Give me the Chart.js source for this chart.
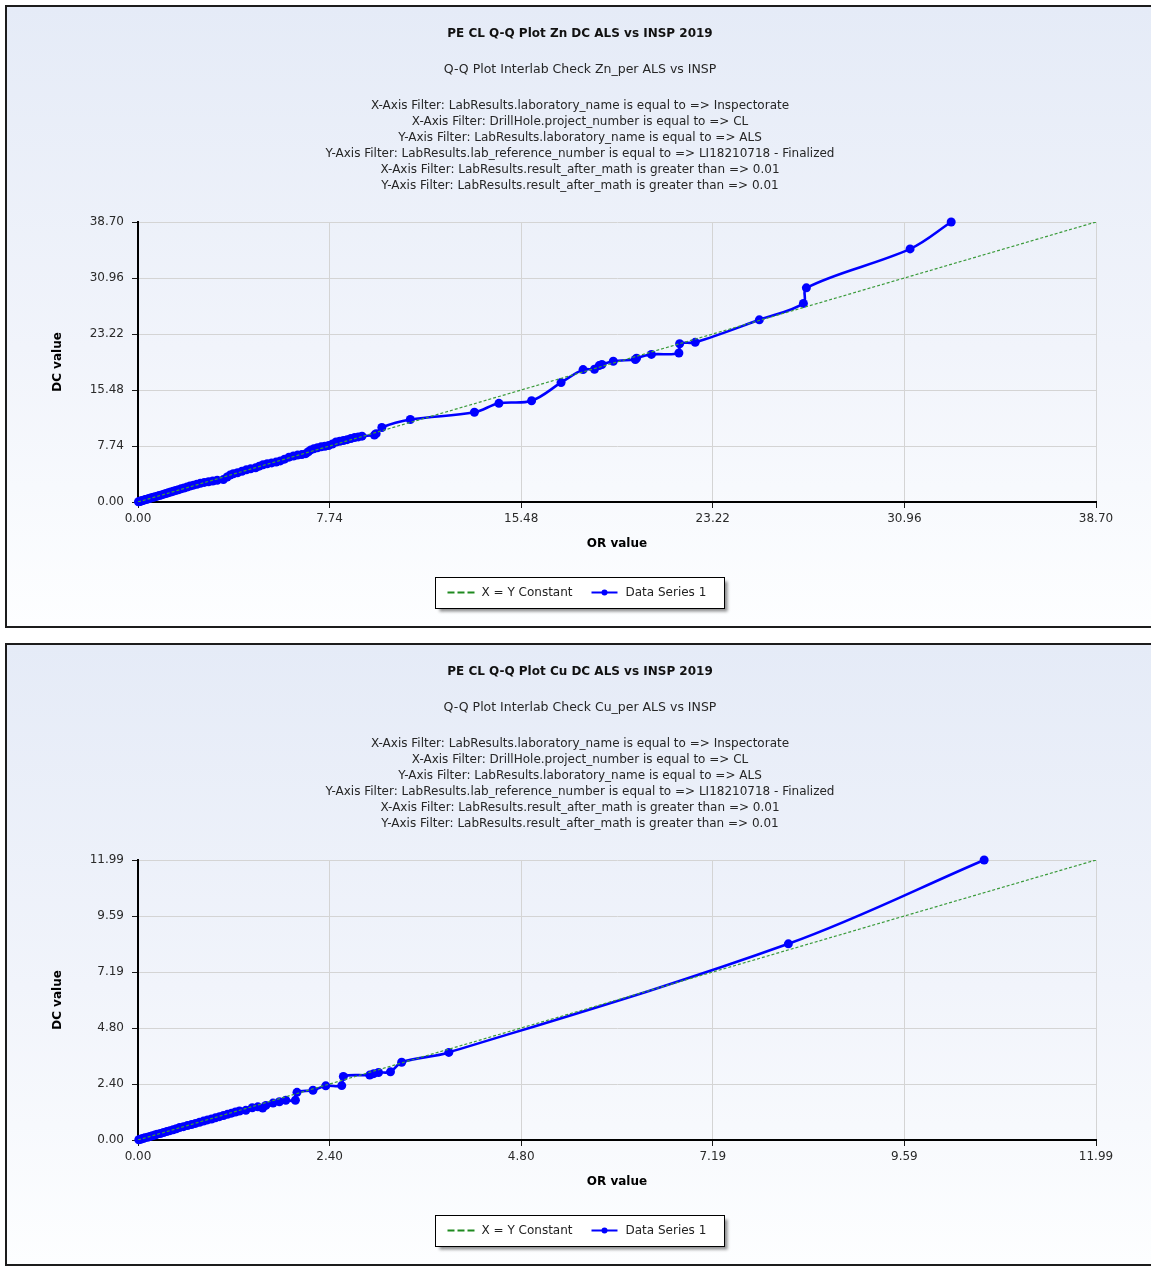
<!DOCTYPE html>
<html>
<head>
<meta charset="utf-8">
<title>Q-Q Plots Zn / Cu</title>
<script src="https://cdn.jsdelivr.net/npm/chart.js@4.4.1/dist/chart.umd.min.js"></script>
<style>
  html, body { margin: 0; padding: 0; background: #ffffff; overflow: hidden; width: 1151px; height: 1266px; }
  .panel {
    position: absolute; left: 5px; width: 1160px; height: 619px;
    border: 2px solid #1c1c1c; border-right: none;
    background: linear-gradient(to bottom, #e5ebf7 0%, #f1f4fb 55%, #fdfeff 100%);
  }
  .panel canvas { position: absolute; left: 0; top: 0; }
</style>
</head>
<body>
<div class="panel" style="top:5px"><canvas id="znChart" width="1150" height="619"></canvas></div>
<div class="panel" style="top:643px"><canvas id="cuChart" width="1150" height="619"></canvas></div>

<script>
// ---- text ----
const filterLines = [
  'X-Axis Filter: LabResults.laboratory_name is equal to => Inspectorate',
  'X-Axis Filter: DrillHole.project_number is equal to => CL',
  'Y-Axis Filter: LabResults.laboratory_name is equal to => ALS',
  'Y-Axis Filter: LabResults.lab_reference_number is equal to => LI18210718 - Finalized',
  'X-Axis Filter: LabResults.result_after_math is greater than => 0.01',
  'Y-Axis Filter: LabResults.result_after_math is greater than => 0.01'
];
const znTitle = 'PE CL Q-Q Plot Zn DC ALS vs INSP 2019';
const znSubtitle = 'Q-Q Plot Interlab Check Zn_per ALS vs INSP';
const cuTitle = 'PE CL Q-Q Plot Cu DC ALS vs INSP 2019';
const cuSubtitle = 'Q-Q Plot Interlab Check Cu_per ALS vs INSP';
const xAxisTitle = 'OR value';
const yAxisTitle = 'DC value';
const refLabel = 'X = Y Constant';
const seriesLabel = 'Data Series 1';

// ---- tick values (shared by both axes of a plot) ----
const znTicks = [0, 7.74, 15.48, 23.22, 30.96, 38.70];
const cuTicks = [0, 2.398, 4.796, 7.194, 9.592, 11.99];

// ---- Zn quantiles: OR (x) and DC (y) ----
const znOr = [0.02,0.05,0.08,0.12,0.15,0.20,0.25,0.30,0.36,0.42,0.48,0.55,0.62,0.70,0.78,0.86,0.95,
  1.04,1.13,1.22,1.32,1.42,1.52,1.63,1.74,1.86,1.98,
  2.10,2.24,2.38,2.52,2.68,2.85,
  3.02,3.20,3.45,3.60,3.72,3.85,
  4.02,4.20,4.38,4.55,4.75,4.90,
  5.05,5.22,5.40,5.58,5.75,5.92,
  6.10,6.28,6.45,6.62,6.78,6.88,6.98,
  7.10,7.25,7.40,7.55,7.70,7.85,
  8.00,8.15,8.30,8.45,8.60,8.75,8.90,
  9.05,9.55,9.62,9.85,
  11.00,13.59,14.58,15.90,17.09,17.98,18.44,18.63,18.74,19.20,
  20.09,20.14,20.74,21.85,21.88,22.51,25.10,26.88,27.00,31.19,32.85];
const znDc = [0.03,0.06,0.10,0.13,0.18,0.22,0.27,0.33,0.38,0.45,0.52,0.58,0.66,0.74,0.81,0.90,0.98,
  1.08,1.17,1.27,1.38,1.47,1.58,1.70,1.82,1.93,2.06,
  2.20,2.33,2.46,2.58,2.71,2.80,
  2.90,3.00,3.10,3.45,3.72,3.90,
  4.05,4.25,4.45,4.58,4.72,4.95,
  5.15,5.28,5.40,5.52,5.68,5.92,
  6.20,6.35,6.48,6.55,6.68,6.95,7.20,
  7.35,7.50,7.62,7.70,7.80,8.00,
  8.30,8.40,8.50,8.62,8.78,8.90,9.00,
  9.10,9.25,9.45,10.30,
  11.40,12.40,13.64,14.00,16.50,18.30,18.35,18.85,19.00,19.45,
  19.70,19.88,20.40,20.60,21.88,22.07,25.18,27.45,29.60,34.98,38.70];

// ---- Cu quantiles: OR (x) and DC (y) ----
const cuOr = [0.01,0.03,0.05,0.07,0.09,0.12,0.15,0.18,0.21,0.24,0.28,0.32,0.36,0.40,0.44,0.48,
  0.52,0.57,0.62,0.67,0.72,0.77,0.82,0.87,0.92,0.97,
  1.02,1.07,1.12,1.17,1.22,1.27,1.35,1.43,1.50,1.56,1.60,1.69,1.77,1.85,1.97,1.99,
  2.19,2.35,2.55,2.57,2.90,2.95,3.01,3.16,3.30,3.89,8.14,10.59];
const cuDc = [0.01,0.03,0.05,0.07,0.10,0.12,0.15,0.18,0.21,0.25,0.28,0.32,0.36,0.40,0.44,0.48,
  0.53,0.57,0.62,0.66,0.71,0.76,0.81,0.86,0.90,0.95,
  1.00,1.05,1.10,1.15,1.20,1.24,1.27,1.38,1.42,1.37,1.48,1.58,1.64,1.70,1.70,2.04,
  2.13,2.32,2.33,2.72,2.78,2.84,2.89,2.92,3.33,3.75,8.40,11.99];

const FONT = '"DejaVu Sans", "Noto Sans", sans-serif';

// Header block: bold title, subtitle and the filter description lines
const headerText = {
  id: 'headerText',
  afterDraw(chart, args, opts) {
    const ctx = chart.ctx;
    ctx.save();
    ctx.textAlign = 'center';
    ctx.textBaseline = 'middle';
    ctx.fillStyle = '#111111';
    ctx.font = 'bold 12px ' + FONT;
    ctx.fillText(opts.title, opts.cx, 27);
    ctx.fillStyle = '#262626';
    ctx.font = '12.5px ' + FONT;
    ctx.fillText(opts.subtitle, opts.cx, 63);
    ctx.font = '12px ' + FONT;
    opts.lines.forEach((t, i) => ctx.fillText(t, opts.cx, 99 + 16 * i));
    ctx.restore();
  }
};

// Framed legend with drop shadow, built from the datasets' own labels and colours
const boxLegend = {
  id: 'boxLegend',
  afterDraw(chart, args, opts) {
    const ctx = chart.ctx;
    const [ref, series] = chart.data.datasets;
    ctx.save();
    ctx.font = '12px ' + FONT;
    const w0 = ctx.measureText(ref.label).width;
    const w1 = ctx.measureText(series.label).width;
    const boxW = Math.round(12 + 27 + 7 + w0 + 19 + 26 + 8 + w1 + 18);
    const h = 31;
    const left = Math.round(opts.cx - boxW / 2) + 0.5;
    const top = opts.top + 0.5;

    ctx.shadowColor = 'rgba(0,0,0,0.45)';
    ctx.shadowBlur = 3;
    ctx.shadowOffsetX = 3;
    ctx.shadowOffsetY = 3;
    ctx.fillStyle = '#ffffff';
    ctx.fillRect(left, top, boxW, h);
    ctx.shadowColor = 'transparent';
    ctx.strokeStyle = '#000000';
    ctx.lineWidth = 1;
    ctx.strokeRect(left, top, boxW, h);

    const cy = Math.round(top + h / 2) - 0.5;
    let x = left + 12;
    // dashed reference-line icon
    ctx.strokeStyle = '#1f8a1f';
    ctx.lineWidth = 2;
    ctx.setLineDash([7, 3]);
    ctx.beginPath(); ctx.moveTo(x, cy); ctx.lineTo(x + 27, cy); ctx.stroke();
    ctx.setLineDash([]);
    x += 27 + 7;
    ctx.fillStyle = '#222222';
    ctx.textAlign = 'left';
    ctx.textBaseline = 'middle';
    ctx.fillText(ref.label, x, cy);
    x += w0 + 19;
    // series icon: line with marker
    ctx.strokeStyle = series.borderColor;
    ctx.lineWidth = 2;
    ctx.beginPath(); ctx.moveTo(x, cy); ctx.lineTo(x + 26, cy); ctx.stroke();
    ctx.fillStyle = series.borderColor;
    ctx.beginPath(); ctx.arc(x + 13, cy, 3, 0, Math.PI * 2); ctx.fill();
    x += 26 + 8;
    ctx.fillStyle = '#222222';
    ctx.fillText(series.label, x, cy);
    ctx.restore();
  }
};

function axisOptions(ticks, titleText, vertical) {
  return {
    type: 'linear',
    min: ticks[0],
    max: ticks[ticks.length - 1],
    afterBuildTicks: (scale) => { scale.ticks = ticks.map(v => ({ value: v })); },
    afterFit: (scale) => { if (vertical) scale.width = 91; else scale.height = 50; },
    grid: { color: '#d4d4d4', lineWidth: 1, tickColor: '#1a1a1a', tickLength: 6, tickWidth: 1 },
    border: { display: true, color: '#000000', width: 2 },
    ticks: {
      font: { family: FONT, size: 12 },
      color: '#2a2a2a',
      padding: vertical ? 8 : 4,
      autoSkip: false,
      maxRotation: 0,
      callback: (v) => Number(v).toFixed(2)
    },
    title: {
      display: true,
      text: titleText,
      color: '#000000',
      font: { family: FONT, size: 12, weight: 'bold' },
      padding: vertical ? { top: 4, bottom: 0 } : { top: 0, bottom: 1 }
    }
  };
}

function buildQQ(canvasId, title, subtitle, orVals, dcVals, ticks) {
  const lo = ticks[0], hi = ticks[ticks.length - 1];
  return new Chart(document.getElementById(canvasId), {
    type: 'scatter',
    data: {
      datasets: [
        {
          label: refLabel,
          data: [{ x: lo, y: lo }, { x: hi, y: hi }],
          showLine: true,
          borderColor: '#3b9b3b',
          borderWidth: 1.2,
          borderDash: [3, 2],
          pointRadius: 0,
          tension: 0
        },
        {
          label: seriesLabel,
          data: orVals.map((x, i) => ({ x: x, y: dcVals[i] })),
          showLine: true,
          borderColor: '#0000ff',
          backgroundColor: '#0000ff',
          borderWidth: 2.6,
          pointRadius: 4.5,
          pointBorderWidth: 0,
          pointBackgroundColor: '#0000ff',
          tension: 0.35,
          clip: false
        }
      ]
    },
    options: {
      responsive: false,
      animation: false,
      events: [],
      layout: { padding: { top: 215, left: 40, right: 61, bottom: 74 } },
      scales: {
        x: axisOptions(ticks, xAxisTitle, false),
        y: axisOptions(ticks, yAxisTitle, true)
      },
      plugins: {
        legend: { display: false },
        tooltip: { enabled: false },
        headerText: { cx: 573, title: title, subtitle: subtitle, lines: filterLines },
        boxLegend: { cx: 572, top: 570 }
      }
    },
    plugins: [headerText, boxLegend]
  });
}

buildQQ('znChart', znTitle, znSubtitle, znOr, znDc, znTicks);
buildQQ('cuChart', cuTitle, cuSubtitle, cuOr, cuDc, cuTicks);
</script>
</body>
</html>
